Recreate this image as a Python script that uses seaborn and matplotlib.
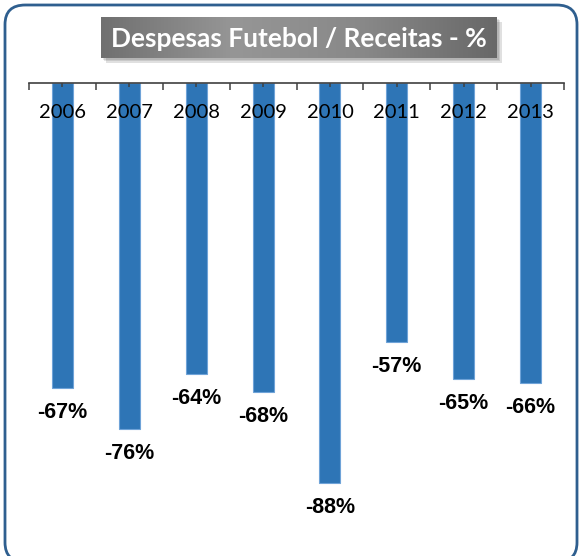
import numpy as np
import matplotlib
matplotlib.use("Agg")
import matplotlib.pyplot as plt
from matplotlib.patches import FancyBboxPatch, Rectangle
from matplotlib.colors import LinearSegmentedColormap
import seaborn as sns

# Dados
anos = ["2006", "2007", "2008", "2009", "2010", "2011", "2012", "2013"]
valores = [-67, -76, -64, -68, -88, -57, -65, -66]
rotulos = [f"{v}%" for v in valores]
titulo = "Despesas Futebol / Receitas - %"

sns.set_theme(style="white")
plt.rcParams["font.family"] = ["Lato", "DejaVu Sans"]

W, H = 579, 556
fig = plt.figure(figsize=(W / 100, H / 100), dpi=100)

# Moldura arredondada
moldura = FancyBboxPatch((5 / W, -6 / H), 572 / W, (H + 1) / H,
                         boxstyle="round,pad=0,rounding_size=0.035",
                         transform=fig.transFigure, facecolor="white",
                         edgecolor="#2F5F8F", linewidth=2, zorder=-2)
fig.patches.append(moldura)

# Área do gráfico
ax = fig.add_axes([29 / W, (H - 538) / H, 535 / W, 455 / H])
ax.set_facecolor("none")
sns.barplot(x=anos, y=valores, color="#2E75B6", width=0.314,
            edgecolor="#6FA3D8", linewidth=0.8, saturation=1, ax=ax)
ax.set_ylim(-100, 0)
ax.set_xlim(-0.5, 7.5)
ax.set_xlabel("")
ax.set_ylabel("")
ax.set_yticks([])

for s in ["left", "right", "bottom"]:
    ax.spines[s].set_visible(False)
ax.spines["top"].set_color("#404040")
ax.spines["top"].set_linewidth(1.2)

ax.xaxis.tick_top()
ax.set_xticks(np.arange(-0.5, 8, 1), minor=True)
ax.tick_params(axis="x", which="both", top=True, bottom=False, labeltop=True,
               labelbottom=False, direction="in", color="#404040", width=1.1)
ax.tick_params(axis="x", which="major", length=3, pad=-27.5, labelsize=14.5,
               labelcolor="black")
ax.tick_params(axis="x", which="minor", length=5)
ax.set_axisbelow(False)

ax.bar_label(ax.containers[0], labels=rotulos, padding=10, fontsize=15.5,
             fontweight="bold", color="black",
             family=["Liberation Sans", "DejaVu Sans"])

# Caixa do título com gradiente
bx, by, bw, bh = 101 / W, (H - 58) / H, 396 / W, 41 / H
for i, a in enumerate([0.10, 0.10, 0.12]):
    off = (i + 1) * 1.5
    fig.patches.append(Rectangle((bx + off / W, by - off / H), bw, bh,
                                 transform=fig.transFigure, facecolor="black",
                                 alpha=a, edgecolor="none", zorder=-1))
tax = fig.add_axes([bx, by, bw, bh])
cmap = LinearSegmentedColormap.from_list("cinza", ["#707070", "#969696", "#888888", "#686868"])
tax.imshow(np.linspace(0, 1, 256).reshape(1, -1), aspect="auto", cmap=cmap,
           extent=[0, 1, 0, 1])
tax.set_axis_off()
tax.text(0.5, 0.47, titulo, color="white", fontsize=19, fontweight="bold",
         ha="center", va="center", transform=tax.transAxes)

fig.savefig("out.png", dpi=100)
